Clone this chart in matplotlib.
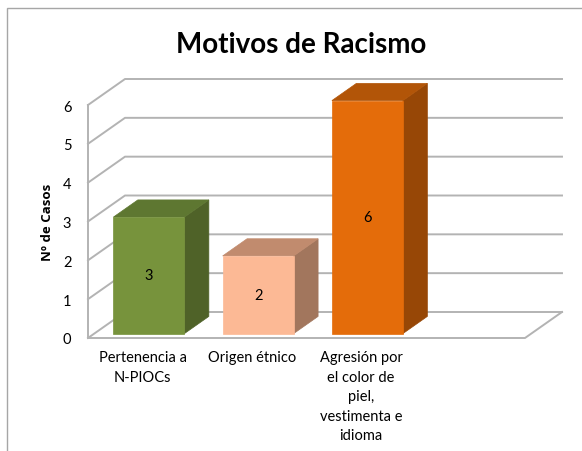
import matplotlib
matplotlib.use("Agg")
import matplotlib.pyplot as plt
from matplotlib.patches import Polygon, Rectangle

#------------Data----------------------#
categorias = ["Pertenencia a\nN-PIOCs", "Origen étnico",
              "Agresión por\nel color de\npiel,\nvestimenta e\nidioma"]
casos = [3, 2, 6]
valores_eje = [0, 1, 2, 3, 4, 5, 6]

color_frente = ["#77933C", "#FCB995", "#E46C0A"]
color_techo = ["#5E7731", "#C18B6E", "#B25508"]
color_lado = ["#4F6228", "#A2765D", "#974706"]

plt.rcParams['font.family'] = ['Lato', 'DejaVu Sans']

fig = plt.figure(figsize=(5.82, 4.52), dpi=100)
ax = fig.add_axes([88/582, 113/452, 437/582, 233/452])

n_slots = 4
ymax = valores_eje[-1]
ax.set_xlim(0, n_slots)
ax.set_ylim(0, ymax)

# depth of the 3D box, in data units (px / px-per-unit)
DX = 37 / (437 / n_slots)
DY = 26 / (233 / ymax)
grid_col = "#B3B3B3"

#------------Walls & grid-------------#
for v in valores_eje:
    ax.plot([0, DX, n_slots + DX], [v, v + DY, v + DY], color=grid_col,
            lw=1.4, clip_on=False, zorder=1)
ax.plot([0, 0], [0, ymax], color=grid_col, lw=1.4, clip_on=False, zorder=1)
ax.plot([0, n_slots, n_slots + DX], [0, 0, DY], color=grid_col, lw=1.4,
        clip_on=False, zorder=1)

#------------Bars---------------------#
hw = 0.325
z0, dz = 0.17, 0.66
for i, v in enumerate(casos):
    c = i + 0.5
    ox, oy = z0 * DX, z0 * DY
    x0, x1 = c - hw + ox, c + hw + ox
    y0, y1 = oy, v + oy
    ddx, ddy = dz * DX, dz * DY
    front = [(x0, y0), (x1, y0), (x1, y1), (x0, y1)]
    top = [(x0, y1), (x1, y1), (x1 + ddx, y1 + ddy), (x0 + ddx, y1 + ddy)]
    side = [(x1, y0), (x1 + ddx, y0 + ddy), (x1 + ddx, y1 + ddy), (x1, y1)]
    for pts, col in [(side, color_lado[i]), (top, color_techo[i]), (front, color_frente[i])]:
        ax.add_patch(Polygon(pts, closed=True, facecolor=col, edgecolor=col,
                             lw=0.5, clip_on=False, zorder=3))
    ax.text((x0 + x1) / 2, y0 + v / 2, str(v), ha='center', va='center',
            fontsize=10.5, color='black', zorder=4)

#------------Axes----------------------#
for s in ax.spines.values():
    s.set_visible(False)
ax.set_yticks(valores_eje)
ax.tick_params(axis='y', length=0, pad=12, labelsize=10.5)
ax.set_xticks([i + 0.5 for i in range(len(categorias))], categorias)
ax.tick_params(axis='x', length=0, pad=9, labelsize=10.5)
for lbl in ax.get_xticklabels():
    lbl.set_linespacing(1.5)
    lbl.set_multialignment('center')
ax.set_ylabel('Nº de Casos', fontweight='bold', fontsize=9.5, labelpad=6,
              family=['Open Sans', 'DejaVu Sans'])

fig.text(0.517, 0.90, 'Motivos de Racismo', ha='center', va='center',
         fontsize=20, fontweight='bold')

fig.add_artist(Rectangle((7/582, -0.05), 1.2, (452 - 9)/452 + 0.05,
                         transform=fig.transFigure, fill=False,
                         edgecolor='#A6A6A6', lw=1))

fig.savefig('out.png', dpi=100)
